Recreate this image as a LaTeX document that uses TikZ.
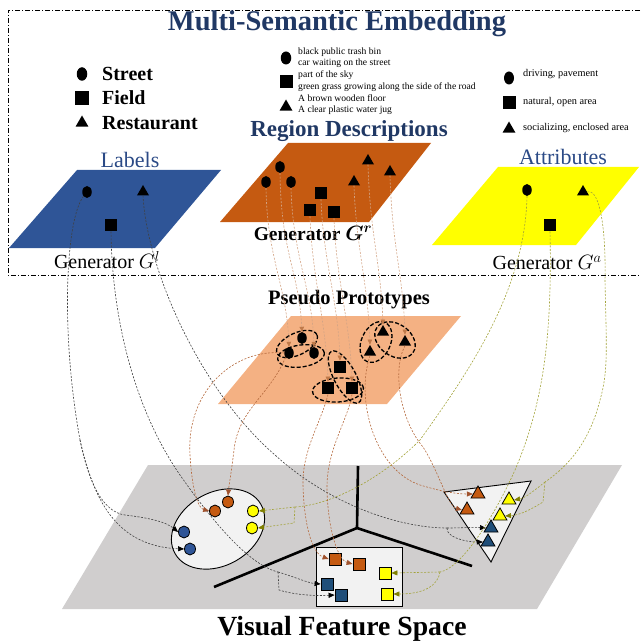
\documentclass[tikz,border=0pt]{standalone}
\usepackage{fontspec}
\usepackage{bm}
\setmainfont{Liberation Serif}
\usetikzlibrary{shapes.geometric,arrows.meta}

\definecolor{navy}{HTML}{203864}
\definecolor{navylt}{HTML}{2B4A86}
\definecolor{pblue}{HTML}{2F5597}
\definecolor{porange}{HTML}{C55A11}
\definecolor{pyellow}{HTML}{FFFF00}
\definecolor{plight}{HTML}{F4B183}
\definecolor{pgray}{HTML}{D0CECE}
\definecolor{panel}{HTML}{F2F2F2}
\definecolor{mblue}{HTML}{2F5597}
\definecolor{mdblue}{HTML}{1F4E79}
\definecolor{lblline}{HTML}{404040}
\definecolor{attline}{HTML}{A3A33A}
\definecolor{atttip}{HTML}{808000}
\definecolor{regline}{HTML}{D3A485}
\definecolor{regtip}{HTML}{C07A4A}
\definecolor{psline}{HTML}{B56A3E}
\definecolor{pstip}{HTML}{A0522D}

\newcommand{\fsz}[1]{\fontsize{#1}{#1}\selectfont}

\begin{document}
\begin{tikzpicture}[x=1pt,y=-1pt,
  txt/.style={inner sep=0pt},
  circm/.style={ellipse, fill=black, minimum width=9.5pt, minimum height=12pt, inner sep=0pt},
  sqm/.style={rectangle, fill=black, minimum size=12.5pt, inner sep=0pt},
  trim/.style={regular polygon, regular polygon sides=3, fill=black, minimum size=14pt, inner sep=0pt},
  vcirc/.style={ellipse, draw=black, line width=0.8pt, minimum width=11pt, minimum height=12pt, inner sep=0pt},
  vsq/.style={rectangle, draw=black, line width=0.8pt, minimum size=12pt, inner sep=0pt},
  vtri/.style={regular polygon, regular polygon sides=3, draw=black, line width=0.8pt, minimum size=16pt, inner sep=0pt},
  fine/.style={line width=0.6pt, dash pattern=on 2pt off 1.5pt},
  lbl/.style={fine, draw=lblline},
  att/.style={fine, draw=attline},
  reg/.style={fine, draw=regline, -{Triangle[length=5pt,width=4.5pt,color=regtip]}},
  ps/.style={fine, draw=psline},
  lbltip/.style={-{Triangle[length=6pt,width=5pt,color=black]}},
  atttip/.style={-{Triangle[length=6pt,width=5pt,color=atttip]}},
  pstip/.style={-{Triangle[length=6pt,width=5pt,color=pstip]}},
  group/.style={ellipse, draw=black, line width=1.3pt, dash pattern=on 4pt off 2pt, inner sep=0pt}
]
\useasboundingbox (0,0) rectangle (640,644);

% ---------- embedding frame ----------
\draw[line width=0.6pt, dash pattern=on 5pt off 2pt on 1pt off 2pt] (660,10) -- (8,10) -- (8,275) -- (660,275);
\node[txt, font=\fsz{28.5}\bfseries, text=navy] (title) at (337,24) {Multi-Semantic Embedding};

% ---------- class legend ----------
\node[circm, minimum width=10.5pt, minimum height=13.5pt] (kc) at (82,74) {};
\node[sqm, minimum size=13.5pt] (ks) at (82,98) {};
\node[trim, minimum size=15pt] (kt) at (82,123) {};
\node[txt, anchor=west, font=\fsz{20}\bfseries] (kct) at (102,74) {Street};
\node[txt, anchor=west, font=\fsz{20}\bfseries] (kst) at (102,98) {Field};
\node[txt, anchor=west, font=\fsz{20}\bfseries] (ktt) at (102,123) {Restaurant};

% ---------- region legend ----------
\node[circm, minimum width=10.5pt, minimum height=13pt] (rkc) at (286,58) {};
\node[sqm, minimum size=13pt] (rks) at (286,82) {};
\node[trim, minimum size=15pt] (rkt) at (286,107) {};
\begin{scope}[every node/.style={txt, anchor=west, font=\fsz{9.6}}]
\node (rl1) at (298,52) {black public trash bin};
\node (rl2) at (298,63.5) {car waiting on the street};
\node (rl3) at (298,75) {part of the sky};
\node (rl4) at (298,87) {green grass growing along the side of the road};
\node (rl5) at (298,98.5) {A brown wooden floor};
\node (rl6) at (298,110) {A clear plastic water jug};
\end{scope}

% ---------- attribute legend ----------
\node[circm, minimum width=10pt, minimum height=13pt] (akc) at (509,78) {};
\node[sqm, minimum size=13pt] (aks) at (509,103) {};
\node[trim, minimum size=15pt] (akt) at (509,129) {};
\begin{scope}[every node/.style={txt, anchor=west, font=\fsz{10.3}}]
\node (al1) at (523,74) {driving, pavement};
\node (al2) at (523,102) {natural, open area};
\node (al3) at (523,128) {socializing, enclosed area};
\end{scope}

% ---------- headings ----------
\node[txt, font=\fsz{23}\bfseries, text=navy] (hreg) at (349,131) {Region Descriptions};
\node[txt, font=\fsz{22}, text=navylt] (hlab) at (130,160) {Labels};
\node[txt, font=\fsz{22}, text=navylt] (hatt) at (563,157) {Attributes};

% ---------- generator planes ----------
\fill[pblue] (9,248) -- (155,248) -- (221,170) -- (77,170) -- cycle;
\fill[porange] (220,222) -- (369,222) -- (431,143) -- (288,143) -- cycle;
\fill[pyellow] (432,245) -- (576,245) -- (639,167) -- (498,167) -- cycle;

\node[circm] (lc) at (87,192) {};
\node[sqm] (ls) at (111,225) {};
\node[trim] (lt) at (143,192) {};

\node[circm] (rc1) at (280,167) {};
\node[circm] (rc2) at (266,182) {};
\node[circm] (rc3) at (291,182) {};
\node[sqm] (rs1) at (321,193) {};
\node[sqm] (rs2) at (310,210) {};
\node[sqm] (rs3) at (334,212) {};
\node[trim] (rt1) at (368,161) {};
\node[trim] (rt2) at (390,172) {};
\node[trim] (rt3) at (354,182) {};

\node[circm] (ac) at (527,190) {};
\node[sqm] (as) at (550,225) {};
\node[trim] (at) at (583,192) {};

\node[txt, font=\fsz{20}] (gl) at (107,260) {Generator $G^{l}$};
\node[txt, font=\fsz{19.5}\bfseries] (gr) at (313,233) {Generator $\bm{G^{r}}$};
\node[txt, font=\fsz{20}] (ga) at (547,263) {Generator $G^{a}$};

% ---------- pseudo prototypes ----------
\node[txt, font=\fsz{20.5}\bfseries] (hps) at (349,300) {Pseudo Prototypes};
\fill[plight] (218,404) -- (387,404) -- (461,316) -- (291,316) -- cycle;

\node[circm] (pct) at (302,338) {};
\node[circm] (pcl) at (289,353) {};
\node[circm] (pcr) at (314,353) {};
\node[sqm] (pst) at (340,367) {};
\node[sqm] (psl) at (328,388) {};
\node[sqm] (psr) at (352,388) {};
\node[trim] (ptl) at (370,352) {};
\node[trim] (ptt) at (383,332) {};
\node[trim] (ptr) at (405,342) {};

\node[group, minimum width=44pt, minimum height=22pt, rotate=25] (gc1) at (297,344) {};
\node[group, minimum width=47pt, minimum height=22pt, rotate=8] (gc2) at (301,356) {};
\node[group, minimum width=58pt, minimum height=22pt, rotate=-62] (gs1) at (345,377) {};
\node[group, minimum width=51pt, minimum height=24pt, rotate=4] (gs2) at (338,390) {};
\node[group, minimum width=43pt, minimum height=29pt, rotate=65] (gt1) at (376,342) {};
\node[group, minimum width=44pt, minimum height=32pt, rotate=-35] (gt2) at (395,340) {};

% ---------- visual feature space ----------
\fill[pgray] (62,609) -- (537,609) -- (622,465) -- (148,465) -- cycle;
\coordinate (axo) at (357,528);
\draw[line width=2.6pt] (358,466) -- (axo) -- (472,566);
\draw[line width=2.6pt] (axo) -- (214,587);

\node[ellipse, draw=black, fill=panel, line width=0.9pt, minimum width=99pt, minimum height=73pt, rotate=30] (clu) at (218,529) {};
\node[rectangle, draw=black, fill=panel, line width=0.9pt, minimum width=86pt, minimum height=59pt, inner sep=0pt] (box) at (359,576.5) {};
\draw[fill=panel, line width=0.9pt] (444,492) -- (531,481) -- (491,562) -- cycle;

\node[vcirc, fill=porange] (vo1) at (228,502) {};
\node[vcirc, fill=porange] (vo2) at (215,511) {};
\node[vcirc, fill=pyellow] (vy1) at (253,511) {};
\node[vcirc, fill=pyellow] (vy2) at (252,528) {};
\node[vcirc, fill=mblue] (vb1) at (184,532) {};
\node[vcirc, fill=mblue] (vb2) at (190,549) {};

\node[vsq, fill=porange] (so1) at (335,559) {};
\node[vsq, fill=porange] (so2) at (359,564) {};
\node[vsq, fill=pyellow] (sy1) at (385,573) {};
\node[vsq, fill=pyellow] (sy2) at (387,594) {};
\node[vsq, fill=mdblue] (sb1) at (327,584) {};
\node[vsq, fill=mdblue] (sb2) at (341,595) {};

\node[vtri, fill=porange] (to1) at (478,494) {};
\node[vtri, fill=porange] (to2) at (467,510) {};
\node[vtri, fill=pyellow] (ty1) at (509,500) {};
\node[vtri, fill=pyellow] (ty2) at (500,516) {};
\node[vtri, fill=mdblue] (tb1) at (491,528) {};
\node[vtri, fill=mdblue] (tb2) at (488,542) {};

\node[txt, font=\fsz{27.7}\bfseries] (hvis) at (342,629) {Visual Feature Space};

% ---------- region descriptions -> pseudo prototypes ----------
\draw[reg] (rc2.south) .. controls +(1,70) and +(-2,-60) .. (pcl.north);
\draw[reg] (rc1.south) .. controls +(1,80) and +(-3,-60) .. (pct.north);
\draw[reg] (rc3.south) .. controls +(2,70) and +(-2,-60) .. (pcr.north);
\draw[reg] (rs2.south) .. controls +(2,60) and +(-2,-60) .. (psl.north);
\draw[reg] (rs1.south) .. controls +(2,60) and +(-2,-60) .. (pst.north);
\draw[reg] (rs3.south) .. controls +(2,60) and +(-2,-60) .. (psr.north);
\draw[reg] (rt3.south) .. controls +(2,60) and +(-2,-60) .. (ptl.north);
\draw[reg] (rt1.south) .. controls +(2,70) and +(-2,-60) .. (ptt.north);
\draw[reg] (rt2.south) .. controls +(2,70) and +(-2,-60) .. (ptr.north);

% ---------- labels -> visual features ----------
\draw[lbl] (lc.south west) .. controls (66,218) and (60,330) .. (80,440) coordinate (lcb);
\draw[lbl, lbltip] (lcb) .. controls (88,480) and (102,512) .. (125,515) .. controls (150,518) and (166,522) .. (vb1.west);
\draw[lbl, lbltip] (lcb) .. controls (92,490) and (110,546) .. (vb2.west);

\draw[lbl] (ls.south) .. controls (112,320) and (135,410) .. (180,475) .. controls (215,525) and (250,565) .. (278,572) coordinate (lsb);
\draw[lbl, lbltip] (lsb) .. controls (295,577) and (308,583) .. (sb1.west);
\draw[lbl, lbltip] (lsb) -- (279,590) .. controls (295,595) and (315,596) .. (sb2.west);

\draw[lbl] (lt.south) .. controls (147,270) and (200,390) .. (275,455) .. controls (330,505) and (400,528) .. (447,528) coordinate (ltb);
\draw[lbl, lbltip] (ltb) .. controls (462,528) and (472,527) .. (tb1.west);
\draw[lbl, lbltip] (ltb) .. controls (446,537) and (465,542) .. (tb2.west);

% ---------- attributes -> visual features ----------
\draw[att] (ac.south) .. controls (525,290) and (470,370) .. (420,440) .. controls (380,480) and (330,505) .. (295,507) coordinate (acb);
\draw[att, atttip] (acb) -- (vy1.east);
\draw[att, atttip] (acb) -- (294,523) -- (vy2.east);

\draw[att] (as.south) .. controls (552,330) and (545,400) .. (515,470) .. controls (495,515) and (462,568) .. (440,572) coordinate (asb);
\draw[att, atttip] (asb) -- (sy1.east);
\draw[att, atttip] (asb) .. controls (438,585) and (425,594) .. (sy2.east);

\draw[att] (at.east) .. controls (600,188) and (606,230) .. (605,280) .. controls (606,340) and (609,370) .. (600,400) .. controls (590,440) and (570,465) .. (545,482) coordinate (atb);
\draw[att, atttip] (atb) .. controls (535,490) and (525,498) .. (ty1.east);
\draw[att, atttip] (atb) -- (543,502) .. controls (530,510) and (520,515) .. (ty2.east);

% ---------- pseudo prototypes -> visual features ----------
\draw[ps, pstip] (pcl.west) .. controls (235,348) and (186,390) .. (190,455) .. controls (192,490) and (198,508) .. (vo2.west);
\draw[ps, pstip] (pcl.south west) .. controls (270,395) and (238,410) .. (234,450) .. controls (231,475) and (229,485) .. (vo1.north);
\draw[ps, pstip] (psl.south) .. controls (322,420) and (302,450) .. (303,485) .. controls (304,525) and (312,553) .. (so1.west);
\draw[ps, pstip] (psr.south) .. controls (348,420) and (326,450) .. (327,490) .. controls (328,530) and (338,560) .. (so2.west);
\draw[ps, pstip] (ptl.south) .. controls (355,400) and (375,470) .. (420,485) .. controls (440,491) and (455,494) .. (to1.west);
\draw[ps, pstip] (ptr.south) .. controls (392,370) and (400,420) .. (423,447) .. controls (438,470) and (448,506) .. (to2.west);
\end{tikzpicture}
\end{document}
